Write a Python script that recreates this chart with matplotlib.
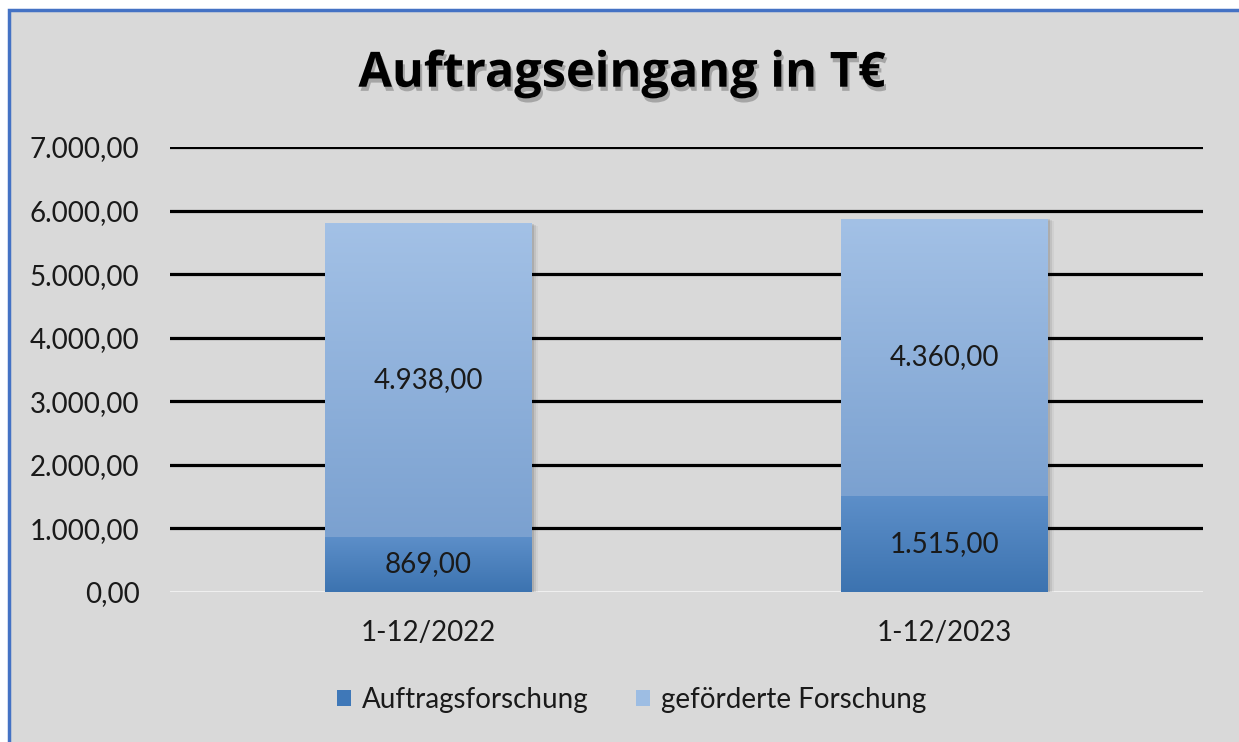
import matplotlib
matplotlib.use("Agg")
from matplotlib import pyplot as plt
from matplotlib import patheffects
from matplotlib.patches import Rectangle, Patch
from matplotlib.colors import LinearSegmentedColormap
import numpy as np

# data
categories = ["1-12/2022", "1-12/2023"]
auftrag = [869.0, 1515.0]
gefoerdert = [4938.0, 4360.0]
yticks = [0, 1000, 2000, 3000, 4000, 5000, 6000, 7000]


def de_fmt(v):
    s = f"{v:,.2f}"
    return s.replace(",", "X").replace(".", ",").replace("X", ".")


plt.rcParams["font.family"] = ["Lato", "DejaVu Sans"]

bg = "#d9d9d9"
fig = plt.figure(figsize=(12.39, 7.42), dpi=100)
fig.patch.set_facecolor("white")
# chart area with blue border
border = Rectangle((9 / 1239, -0.05), 1.1, (742 - 10) / 742 + 0.05,
                   transform=fig.transFigure, facecolor=bg,
                   edgecolor="#4472c4", linewidth=2.5, zorder=-5)
fig.patches.append(border)

ax = fig.add_axes([170 / 1239, 150 / 742, 1033 / 1239, 445 / 742])
ax.set_facecolor("none")
for s in ax.spines.values():
    s.set_visible(False)

x = np.arange(len(categories))
width = 0.4

for yv in yticks[1:]:
    ax.axhline(yv, color="black", lw=2.3, zorder=1)
ax.axhline(0, color="#f2f2f2", lw=2, zorder=1)

cmap_bottom = LinearSegmentedColormap.from_list("b", ["#3c73b0", "#5d8fc9"])
cmap_top = LinearSegmentedColormap.from_list("t", ["#7ba1d0", "#a3c1e6"])

b1 = ax.bar(x, auftrag, width, color="#4a80bd", zorder=3)
b2 = ax.bar(x, gefoerdert, width, bottom=auftrag, color="#8fb1dc", zorder=3)

grad = np.linspace(0, 1, 256).reshape(-1, 1)
for bars, cmap in ((b1, cmap_bottom), (b2, cmap_top)):
    for p in bars:
        x0, y0 = p.get_x(), p.get_y()
        w, h = p.get_width(), p.get_height()
        # soft shadow
        for k, a in enumerate([0.10, 0.07, 0.04]):
            off = 0.004 * (k + 1)
            ax.add_patch(Rectangle((x0 + off, y0 - 15 * (k + 1)), w, h,
                                   facecolor="black", alpha=a, lw=0, zorder=2))
        im = ax.imshow(grad, extent=(x0, x0 + w, y0, y0 + h), origin="lower",
                       cmap=cmap, aspect="auto", zorder=3.5)
        im.set_clip_path(p)

ax.set_xlim(-0.5, 1.5)
ax.set_ylim(0, 7000)

for bars, vals in ((b1, auftrag), (b2, gefoerdert)):
    for p, v in zip(bars, vals):
        ax.text(p.get_x() + p.get_width() / 2, p.get_y() + p.get_height() / 2,
                de_fmt(v), ha="center", va="center", fontsize=20,
                color="#1a1a1a", zorder=5)

ax.set_yticks(yticks)
ax.set_yticklabels([de_fmt(v) for v in yticks])
ax.set_xticks(x)
ax.set_xticklabels(categories)
ax.tick_params(axis="y", length=0, pad=22, labelsize=20, labelcolor="#1a1a1a")
ax.tick_params(axis="x", length=0, pad=20, labelsize=20, labelcolor="#1a1a1a")

fig.text(0.502, 0.9, "Auftragseingang in T€", ha="center", va="center",
         fontsize=35, fontweight="bold", color="black",
         family=["Open Sans", "DejaVu Sans"],
         path_effects=[patheffects.withSimplePatchShadow(offset=(1.5, -3),
                                                         shadow_rgbFace="#444444",
                                                         alpha=0.35)])

handles = [Patch(facecolor="#3f78b8", label="Auftragsforschung"),
           Patch(facecolor="#9dbde3", label="geförderte Forschung")]
fig.legend(handles=handles, loc="center", bbox_to_anchor=(0.51, 0.057), ncol=2,
           frameon=False, fontsize=20, handlelength=0.5, handleheight=0.5,
           handletextpad=0.4, columnspacing=1.7, labelcolor="#1a1a1a")

fig.savefig("out.png", dpi=100)
